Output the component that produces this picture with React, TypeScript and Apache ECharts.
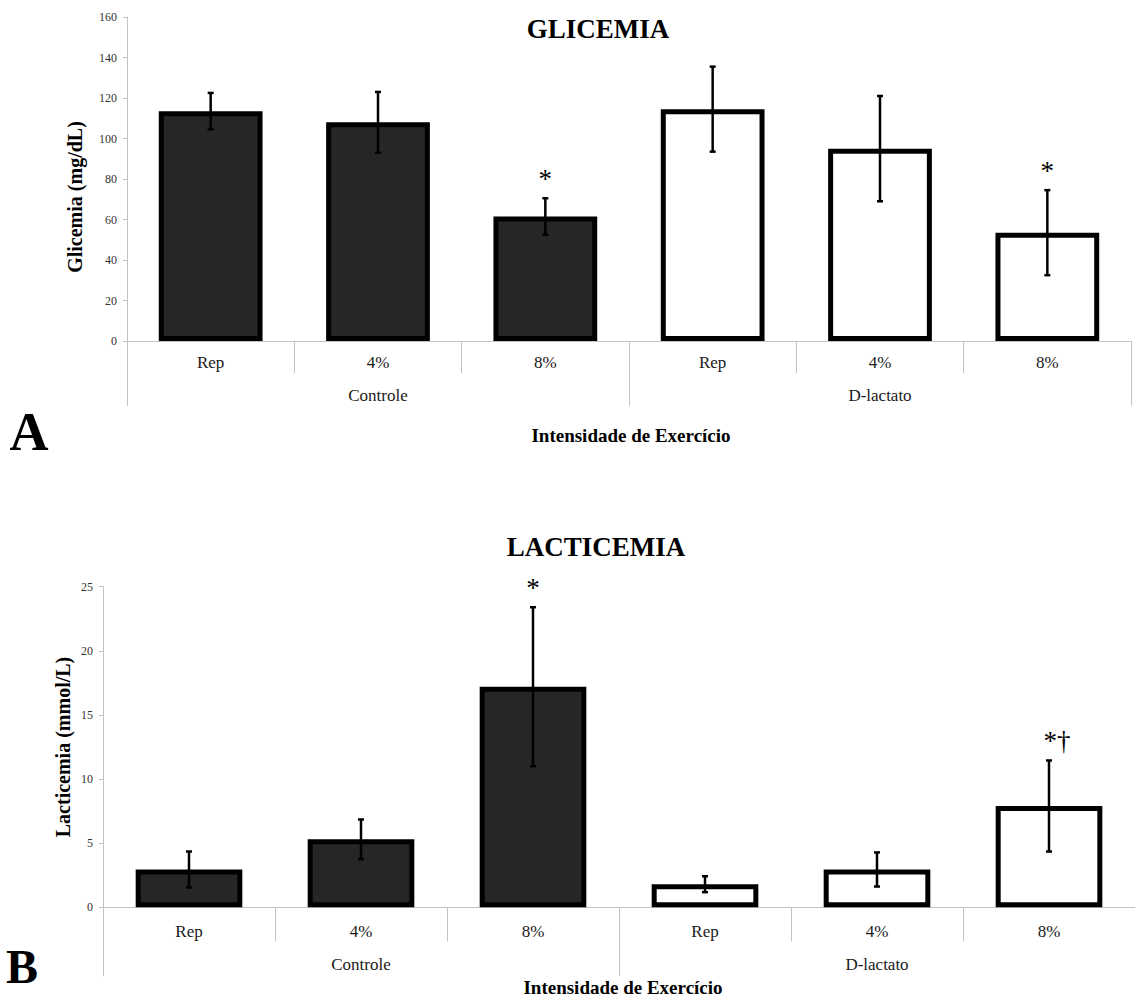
import React, { useEffect, useRef } from "react";
import * as echarts from "echarts";

// ---- data ----
const subCategories = ["Rep", "4%", "8%", "Rep", "4%", "8%"];
const groups = ["Controle", "D-lactato"];
const groupOfBar = [0, 0, 0, 1, 1, 1];

const glicemiaMean = [113.5, 108, 61.5, 114.5, 95, 53.5];
const glicemiaErr = [9, 15, 9, 21, 26, 21];
const glicemiaNotes = ["", "", "*", "", "", "*"];
const glicemiaTicks = [0, 20, 40, 60, 80, 100, 120, 140, 160];

const lacticemiaMean = [2.95, 5.3, 17.2, 1.8, 2.95, 7.9];
const lacticemiaErr = [1.4, 1.55, 6.2, 0.62, 1.33, 3.55];
const lacticemiaNotes = ["", "", "*", "", "", "*†"];
const lacticemiaTicks = [0, 5, 10, 15, 20, 25];

const titles = ["GLICEMIA", "LACTICEMIA"];
const yNames = ["Glicemia (mg/dL)", "Lacticemia (mmol/L)"];
const xName = "Intensidade de Exercício";
const panelLetters = ["A", "B"];

// ---- styles ----
const SERIF = "Liberation Serif";
const AXIS_GRAY = "#c3c3c3";
const groupFills = ["#262626", "#ffffff"];

function xAxesFor(gridIndex: number, sub: { tick: number; margin: number }, grp: { tick: number; margin: number }) {
  return [
    {
      type: "category",
      gridIndex,
      data: subCategories,
      position: "bottom",
      axisLine: { show: true, lineStyle: { color: AXIS_GRAY, width: 1 } },
      axisTick: { show: true, interval: 0, length: sub.tick, lineStyle: { color: AXIS_GRAY } },
      axisLabel: { interval: 0, margin: sub.margin, fontSize: 17, color: "#1a1a1a", fontFamily: SERIF },
      splitLine: { show: false },
    },
    {
      type: "category",
      gridIndex,
      data: groups,
      position: "bottom",
      axisLine: { show: false },
      axisTick: { show: true, interval: 0, length: grp.tick, lineStyle: { color: AXIS_GRAY } },
      axisLabel: { interval: 0, margin: grp.margin, fontSize: 17, color: "#1a1a1a", fontFamily: SERIF },
      splitLine: { show: false },
    },
  ];
}

function yAxisFor(gridIndex: number, ticks: number[]) {
  return {
    type: "value",
    gridIndex,
    min: ticks[0],
    max: ticks[ticks.length - 1],
    interval: ticks[1] - ticks[0],
    axisLine: { show: true, lineStyle: { color: AXIS_GRAY } },
    axisTick: { show: true, length: 4, lineStyle: { color: AXIS_GRAY } },
    splitLine: { show: false },
    axisLabel: { fontSize: 12, color: "#333333", margin: 10, fontFamily: SERIF },
  };
}

function barSeries(xAxisIndex: number, yAxisIndex: number, means: number[]) {
  return {
    type: "bar",
    xAxisIndex,
    yAxisIndex,
    barWidth: "62%",
    data: means.map((v, i) => ({
      value: v,
      itemStyle: { color: groupFills[groupOfBar[i]] },
    })),
    itemStyle: { borderColor: "#000", borderWidth: 5 },
    z: 2,
  };
}

function errorSeries(xAxisIndex: number, yAxisIndex: number, means: number[], errs: number[], notes: string[]) {
  return {
    type: "custom",
    xAxisIndex,
    yAxisIndex,
    encode: { x: 0, y: 1 },
    data: means.map((m, i) => [i, m, errs[i]]),
    z: 5,
    renderItem: (params: any, api: any) => {
      const i = api.value(0);
      const m = api.value(1);
      const e = api.value(2);
      const top = api.coord([i, m + e]);
      const bot = api.coord([i, m - e]);
      const cap = 3;
      const ls = { stroke: "#000", lineWidth: 2.5 };
      const children: any[] = [
        { type: "line", shape: { x1: top[0], y1: top[1], x2: bot[0], y2: bot[1] }, style: ls },
        { type: "line", shape: { x1: top[0] - cap, y1: top[1], x2: top[0] + cap, y2: top[1] }, style: ls },
        { type: "line", shape: { x1: bot[0] - cap, y1: bot[1], x2: bot[0] + cap, y2: bot[1] }, style: ls },
      ];
      const note = notes[params.dataIndex];
      if (note) {
        children.push({
          type: "text",
          x: top[0] + (note.length > 1 ? 8 : 0),
          y: top[1] - 19,
          style: {
            text: note,
            fontSize: 27,
            fontFamily: SERIF,
            fill: "#000",
            align: "center",
            verticalAlign: "middle",
          },
        });
      }
      return { type: "group", children };
    },
  };
}

function txt(text: string, x: number, y: number, size: number, bold: boolean, extra: any = {}) {
  return {
    type: "text",
    x,
    y,
    ...extra,
    style: {
      text,
      fontSize: size,
      fontWeight: bold ? "bold" : "normal",
      fontFamily: SERIF,
      fill: "#000",
      align: "center",
      verticalAlign: "middle",
    },
  };
}

export default function App() {
  const ref = useRef<HTMLDivElement>(null);

  useEffect(() => {
    if (!ref.current) return;
    const chart = echarts.init(ref.current, undefined, { renderer: "svg" });

    const option: any = {
      animation: false,
      backgroundColor: "#ffffff",
      grid: [
        { left: 127, top: 17, width: 1004, height: 324, containLabel: false },
        { left: 103, top: 586.7, width: 1034, height: 320.6, containLabel: false },
      ],
      xAxis: [
        ...xAxesFor(0, { tick: 32, margin: 13 }, { tick: 65, margin: 46 }),
        ...xAxesFor(1, { tick: 34, margin: 16 }, { tick: 69, margin: 49 }),
      ],
      yAxis: [yAxisFor(0, glicemiaTicks), yAxisFor(1, lacticemiaTicks)],
      series: [
        barSeries(0, 0, glicemiaMean),
        errorSeries(0, 0, glicemiaMean, glicemiaErr, glicemiaNotes),
        barSeries(2, 1, lacticemiaMean),
        errorSeries(2, 1, lacticemiaMean, lacticemiaErr, lacticemiaNotes),
      ],
      graphic: [
        txt(titles[0], 598, 29, 27, true),
        txt(titles[1], 596, 547, 27, true),
        txt(yNames[0], 75, 197, 20, true, { rotation: Math.PI / 2 }),
        txt(yNames[1], 63, 747, 20, true, { rotation: Math.PI / 2 }),
        txt(xName, 631, 435, 19, true),
        txt(xName, 623, 987, 19, true),
        txt(panelLetters[0], 29, 432, 54, true),
        txt(panelLetters[1], 22, 966, 48, true),
      ],
    };

    chart.setOption(option);
    return () => chart.dispose();
  }, []);

  return (
    <div
      ref={ref}
      style={{ position: "fixed", left: 0, top: 0, width: 1135, height: 998, background: "#fff" }}
    />
  );
}
